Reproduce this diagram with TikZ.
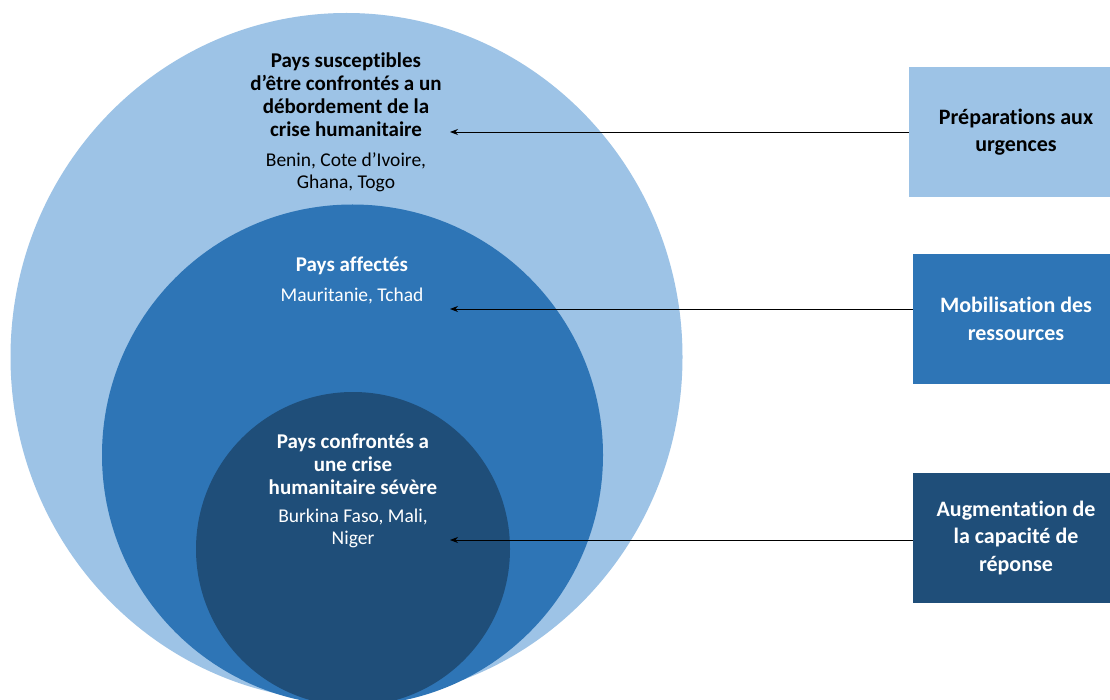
\documentclass[tikz,border=0pt]{standalone}
\usepackage{fontspec}
\setmainfont{Carlito}[Ligatures=NoCommon]
\usetikzlibrary{arrows.meta}
\definecolor{paleblue}{HTML}{9DC3E6}
\definecolor{midblue}{HTML}{2E75B6}
\definecolor{deepblue}{HTML}{1F4E79}
\tikzset{
	titletext/.style={align=center, font=\bfseries\fontsize{21}{23}\selectfont, inner sep=0pt},
	listtext/.style={align=center, font=\fontsize{19.5}{22}\selectfont, inner sep=0pt},
	actionbox/.style={align=center, font=\bfseries\fontsize{22}{27.5}\selectfont, minimum height=130pt, inner sep=0pt},
	pointer/.style={-{Stealth[length=8pt,width=6pt]}, line width=0.8pt}
}
\begin{document}
\begin{tikzpicture}[x=1pt, y=-1pt]
	\useasboundingbox (0, 0) rectangle (1110, 700);
	\fill[white] (0, 0) rectangle (1110, 700);
	\begin{scope}
	\clip (0, 0) rectangle (1110, 700);
	\fill[paleblue] (346.5, 357) ellipse [x radius=336, y radius=344];
	\fill[midblue] (352.5, 455) circle [radius=250.5];
	\fill[deepblue] (353, 549) circle [radius=157];
	\node[actionbox, fill=paleblue, minimum width=214pt] (prep) at (1016, 132) {Préparations aux\\urgences};
	\node[actionbox, fill=midblue, text=white, minimum width=206pt] (mobil) at (1016, 319) {Mobilisation des\\ressources};
	\node[actionbox, fill=deepblue, text=white, minimum width=206pt] (augm) at (1016, 538) {Augmentation de\\la capacité de\\réponse};
	\end{scope}
	\node[titletext] (outertitle) at (346, 95) {Pays susceptibles\\d’être confrontés a un\\débordement de la\\crise humanitaire};
	\node[listtext] (outerlist) at (346, 172) {Benin, Cote d’Ivoire,\\Ghana, Togo};
	\node[titletext, text=white] (midtitle) at (352, 266) {Pays affectés};
	\node[listtext, text=white] (midlist) at (352, 296) {Mauritanie, Tchad};
	\node[titletext, text=white] (innertitle) at (353, 464) {Pays confrontés a\\une crise\\humanitaire sévère};
	\node[listtext, text=white] (innerlist) at (353, 528) {Burkina Faso, Mali,\\Niger};
	\coordinate (outerpt) at (450, 132);
	\coordinate (midpt) at (450, 309);
	\coordinate (innerpt) at (450, 540);
	\draw[pointer] (prep.west |- outerpt) -- (outerpt);
	\draw[pointer] (mobil.west |- midpt) -- (midpt);
	\draw[pointer] (augm.west |- innerpt) -- (innerpt);
\end{tikzpicture}
\end{document}
